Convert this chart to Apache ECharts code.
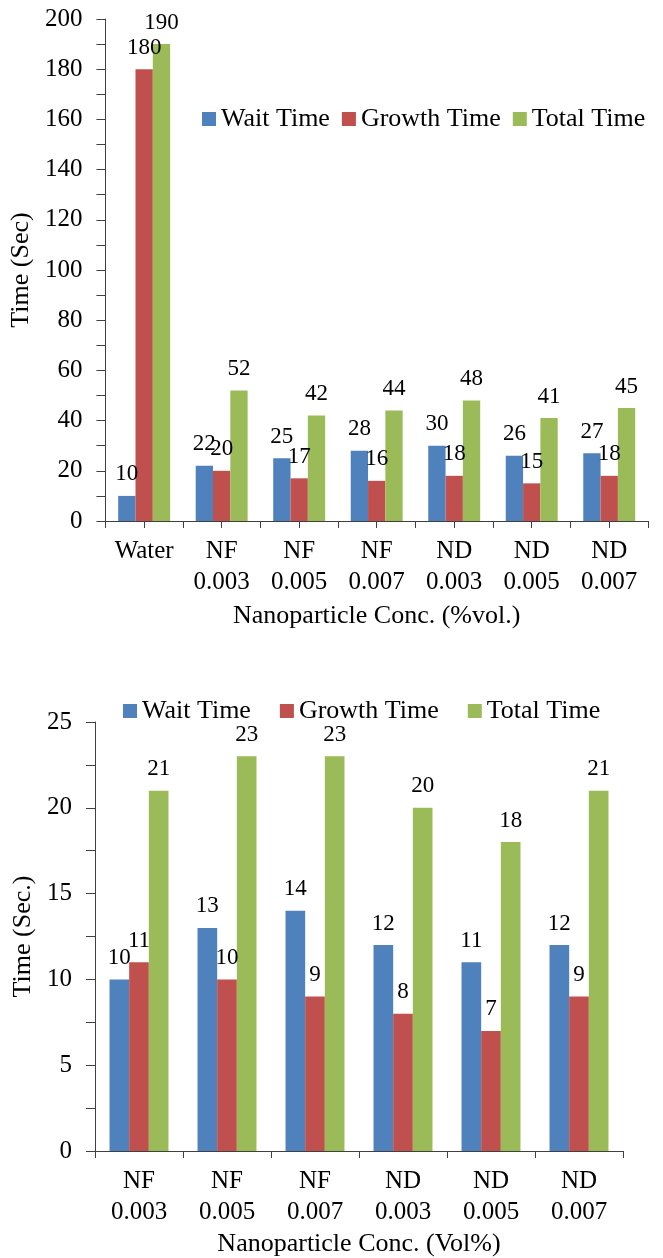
<!DOCTYPE html>
<html>
<head>
<meta charset="utf-8">
<script src="https://cdn.jsdelivr.net/npm/echarts@6/dist/echarts.min.js"></script>
<style>
html,body{margin:0;padding:0;background:#fff;}
#c{width:663px;height:1258px;}
</style>
</head>
<body>
<div id="c"></div>
<script>
// ---- Data: chart 1 ----
const categories1 = ['Water', 'NF\n0.003', 'NF\n0.005', 'NF\n0.007', 'ND\n0.003', 'ND\n0.005', 'ND\n0.007'];
const wait1 = [10, 22, 25, 28, 30, 26, 27];
const growth1 = [180, 20, 17, 16, 18, 15, 18];
const total1 = [190, 52, 42, 44, 48, 41, 45];
const halfTicks1 = ['', '', '', '', '', '', '', '', '', '', '', '', '', ''];

// ---- Data: chart 2 ----
const categories2 = ['NF\n0.003', 'NF\n0.005', 'NF\n0.007', 'ND\n0.003', 'ND\n0.005', 'ND\n0.007'];
const wait2 = [10, 13, 14, 12, 11, 12];
const growth2 = [11, 10, 9, 8, 7, 9];
const total2 = [21, 23, 23, 20, 18, 21];

const seriesNames = ['Wait Time', 'Growth Time', 'Total Time'];
const colors = ['#4F81BD', '#C0504D', '#9BBB59'];

const FONT = 'Liberation Serif';
const AXIS_COLOR = '#404040';

function valueAxis(gridIndex, max, interval, name, nameGap) {
  return {
    type: 'value', gridIndex, min: 0, max, interval,
    name, nameLocation: 'middle', nameGap,
    nameTextStyle: { fontFamily: FONT, fontSize: 26, color: '#000' },
    axisLine: { show: true, lineStyle: { color: AXIS_COLOR, width: 1 } },
    axisTick: { show: true, inside: false, length: 9, lineStyle: { color: AXIS_COLOR } },
    minorTick: { show: true, splitNumber: 2, length: 9, lineStyle: { color: AXIS_COLOR } },
    splitLine: { show: false },
    minorSplitLine: { show: false },
    axisLabel: { fontFamily: FONT, fontSize: 25, color: '#000', margin: 23 }
  };
}

function catAxis(gridIndex, data, name, nameGap, showTicks) {
  return {
    type: 'category', gridIndex, data,
    name, nameLocation: 'middle', nameGap,
    nameTextStyle: { fontFamily: FONT, fontSize: 26, color: '#000' },
    axisLine: { show: true, lineStyle: { color: AXIS_COLOR, width: 1 } },
    axisTick: { show: showTicks, length: 7, lineStyle: { color: AXIS_COLOR } },
    axisLabel: { fontFamily: FONT, fontSize: 25, color: '#000', margin: 15, lineHeight: 31, interval: 0 }
  };
}

function barSeries(i, data, xAxisIndex, yAxisIndex) {
  return {
    type: 'bar', name: seriesNames[i], data, xAxisIndex, yAxisIndex,
    itemStyle: { color: colors[i] },
    barGap: '0%', barCategoryGap: '33%',
    label: { show: true, position: 'top', distance: 10, fontFamily: FONT, fontSize: 23, color: '#000' }
  };
}

const legendBase = {
  itemWidth: 14, itemHeight: 14,
  icon: 'rect',
  textStyle: { fontFamily: FONT, fontSize: 26, color: '#000' },
  data: seriesNames
};

const option = {
  animation: false,
  color: colors,
  grid: [
    { left: 96, right: 15, top: 19, height: 502 },
    { left: 95, right: 40, top: 722, height: 430 }
  ],
  legend: [
    Object.assign({}, legendBase, { left: 197, top: 101, itemGap: 12 }),
    Object.assign({}, legendBase, { left: 118, top: 693, itemGap: 29 })
  ],
  xAxis: [
    catAxis(0, categories1, 'Nanoparticle Conc. (%vol.)', 82, false),
    {
      type: 'category', gridIndex: 0, data: halfTicks1, position: 'bottom',
      axisLine: { show: false },
      axisTick: { show: true, length: 7, lineStyle: { color: AXIS_COLOR } },
      axisLabel: { show: false }
    },
    catAxis(1, categories2, 'Nanoparticle Conc. (Vol%)', 80, true)
  ],
  yAxis: [
    valueAxis(0, 200, 20, 'Time (Sec)', 54),
    valueAxis(1, 25, 5, 'Time (Sec.)', 49)
  ],
  series: [
    barSeries(0, wait1, 0, 0),
    barSeries(1, growth1, 0, 0),
    barSeries(2, total1, 0, 0),
    barSeries(0, wait2, 2, 1),
    barSeries(1, growth2, 2, 1),
    barSeries(2, total2, 2, 1)
  ]
};

const chart = echarts.init(document.getElementById('c'), null, { renderer: 'canvas' });
chart.setOption(option);
</script>
</body>
</html>
